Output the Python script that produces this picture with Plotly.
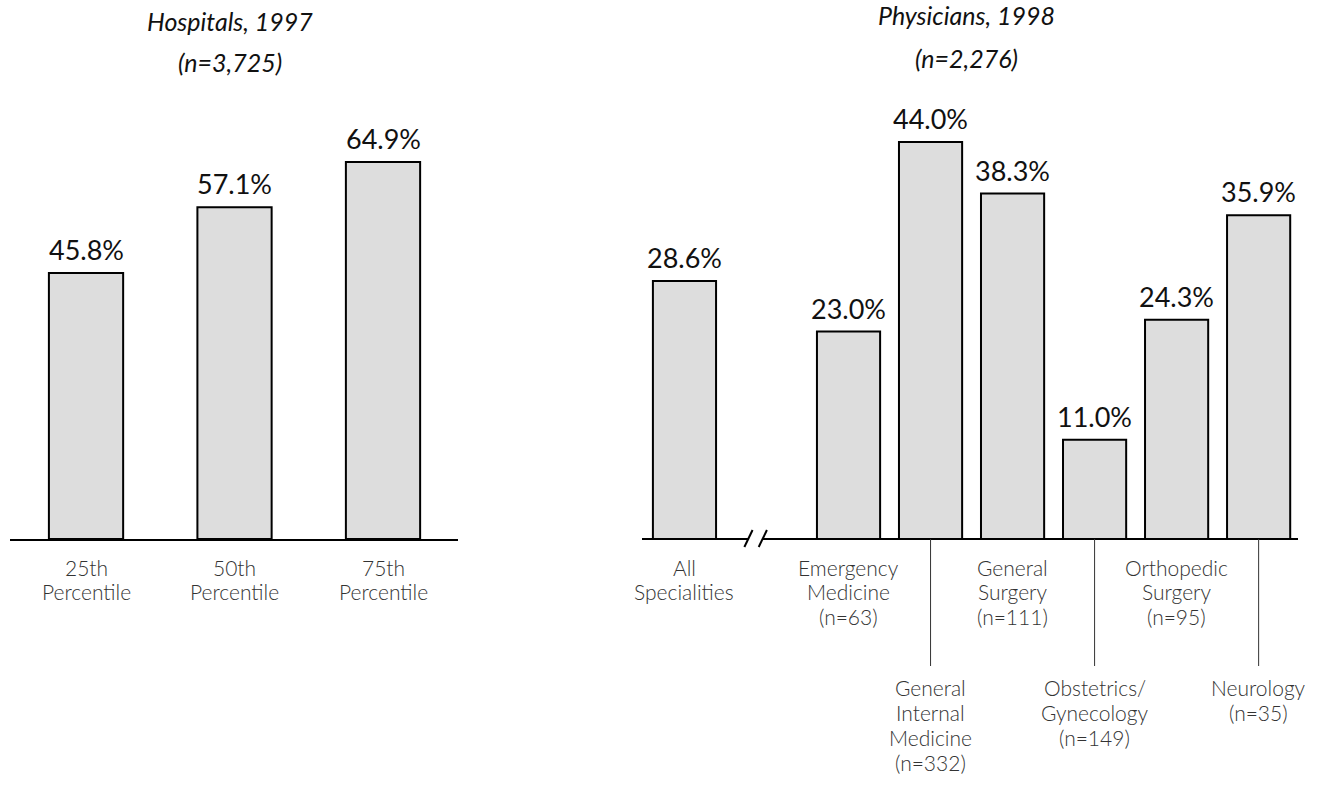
import plotly.graph_objects as go

W, H = 1328, 790

# ---- data ----
hosp_categories = ["25th<br>Percentile", "50th<br>Percentile", "75th<br>Percentile"]
hosp_values = [45.8, 57.1, 64.9]
hosp_title = ["Hospitals, 1997", "(n=3,725)"]

phys_categories = ["All<br>Specialities", "Emergency<br>Medicine<br>(n=63)",
                   "General<br>Internal<br>Medicine<br>(n=332)", "General<br>Surgery<br>(n=111)",
                   "Obstetrics/<br>Gynecology<br>(n=149)", "Orthopedic<br>Surgery<br>(n=95)",
                   "Neurology<br>(n=35)"]
phys_values = [28.6, 23.0, 44.0, 38.3, 11.0, 24.3, 35.9]
phys_positions = [0, 2, 3, 4, 5, 6, 7]          # slot 1 is the axis break
phys_label_level = [0, 0, 1, 0, 1, 0, 1]        # 1 = lower label with leader line
phys_title = ["Physicians, 1998", "(n=2,276)"]

FONT = "Lato, 'Open Sans', sans-serif"
FILL = "#DDDDDD"
LBL_SIZE = 21
VAL_SIZE = 27


def px_x(p):
    return p / W


def px_y(p):
    return 1 - p / H


base_y = px_y(539)
top_y = px_y(120)

fig = go.Figure()

fig.add_trace(go.Bar(
    x=list(range(len(hosp_values))), y=hosp_values,
    width=0.5, marker=dict(color=FILL, line=dict(color="black", width=2)),
    xaxis="x", yaxis="y", showlegend=False, hoverinfo="skip"))

fig.add_trace(go.Bar(
    x=phys_positions, y=phys_values,
    width=0.77, marker=dict(color=FILL, line=dict(color="black", width=2)),
    xaxis="x2", yaxis="y2", showlegend=False, hoverinfo="skip"))

fig.update_layout(
    width=W, height=H, margin=dict(l=0, r=0, t=0, b=0),
    plot_bgcolor="white", paper_bgcolor="white",
    font=dict(family=FONT, color="#222"),
    xaxis=dict(domain=[px_x(10), px_x(458)], range=[-0.512, 2.505],
               showline=True, linecolor="black", linewidth=2,
               showgrid=False, zeroline=False, showticklabels=False,
               anchor="y", fixedrange=True),
    yaxis=dict(domain=[base_y, top_y], range=[0, 419 / 5.81], visible=False,
               anchor="x"),
    xaxis2=dict(domain=[px_x(642), px_x(1298)], range=[-0.518, 7.48],
                showline=False, showgrid=False, zeroline=False,
                showticklabels=False, anchor="y2"),
    yaxis2=dict(domain=[base_y, top_y], range=[0, 419 / 9.02], visible=False,
                anchor="x2"),
)

# value labels
for xs, vals, xr, yr in ((list(range(len(hosp_values))), hosp_values, "x", "y"),
                         (phys_positions, phys_values, "x2", "y2")):
    for xv, v in zip(xs, vals):
        fig.add_annotation(text=f"{v:.1f}%", x=xv, y=v, xref=xr, yref=yr,
                           xanchor="center", yanchor="bottom", yshift=5,
                           showarrow=False,
                           font=dict(size=VAL_SIZE, color="#111", family=FONT))

# titles (one annotation per line)
for lines, cx, cys in ((hosp_title, 230, (21, 62)), (phys_title, 967, (15, 58))):
    for line, cy in zip(lines, cys):
        fig.add_annotation(text=f"<i>{line}</i>", x=px_x(cx), y=px_y(cy),
                           xref="paper", yref="paper", xanchor="center", yanchor="middle",
                           showarrow=False, font=dict(size=25, color="#111", family=FONT))


def add_label(text, xv, xref, first_center, step):
    for i, line in enumerate(text.split("<br>")):
        fig.add_annotation(text=line, x=xv, y=px_y(first_center + i * step),
                           xref=xref, yref="paper", xanchor="center", yanchor="middle",
                           showarrow=False, borderpad=0,
                           font=dict(size=LBL_SIZE, color="#333", family=FONT, weight=300))


# hospital category labels
for i, lab in enumerate(hosp_categories):
    add_label(lab, i, "x", 567, 24.5)

# physician axis line with break
seg_y = base_y
fig.add_shape(type="line", xref="x2", yref="paper", x0=-0.518, x1=0.78, y0=seg_y, y1=seg_y,
              line=dict(color="black", width=2))
fig.add_shape(type="line", xref="x2", yref="paper", x0=0.955, x1=7.48, y0=seg_y, y1=seg_y,
              line=dict(color="black", width=2))
for bx in (0.78, 0.955):
    fig.add_shape(type="line", xref="x2", yref="paper",
                  x0=bx - 0.05, x1=bx + 0.05,
                  y0=px_y(547), y1=px_y(530),
                  line=dict(color="black", width=2))

# physician labels
for pos, lab, lvl in zip(phys_positions, phys_categories, phys_label_level):
    if lvl == 0:
        add_label(lab, pos, "x2", 567, 24.5)
    else:
        add_label(lab, pos, "x2", 687, 25)
        fig.add_shape(type="line", xref="x2", yref="paper", x0=pos, x1=pos,
                      y0=base_y, y1=px_y(666), line=dict(color="#333", width=1))

fig.write_html("out.html")
